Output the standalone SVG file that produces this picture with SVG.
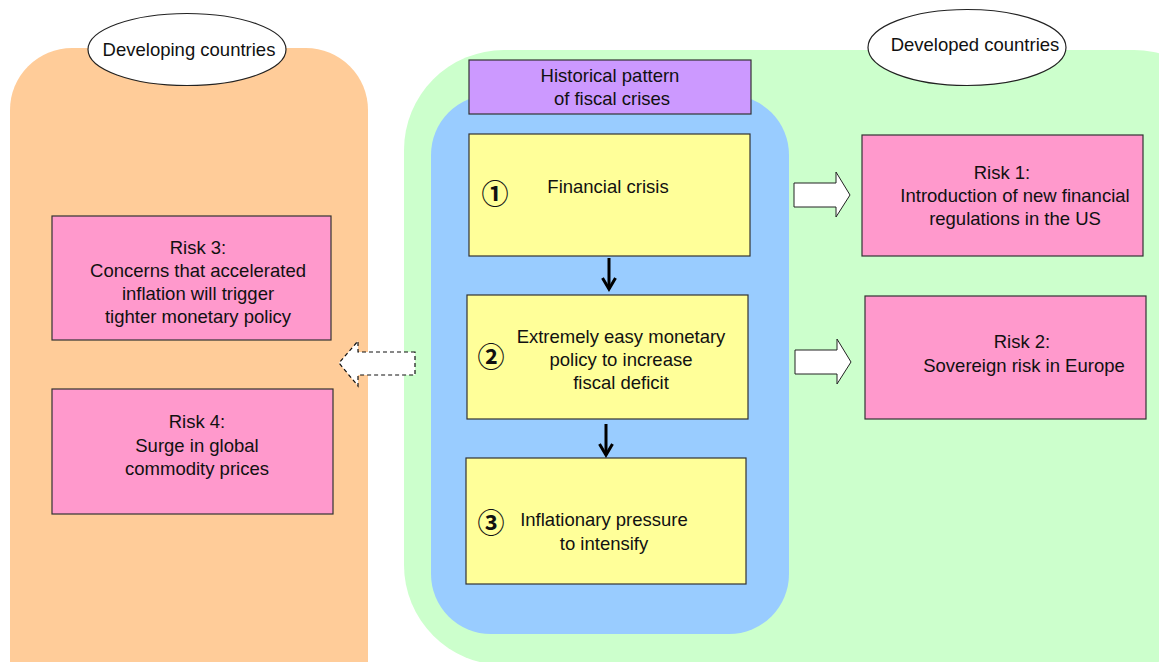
<svg xmlns="http://www.w3.org/2000/svg" width="1159" height="662" viewBox="0 0 1159 662">
<style>
text{font-family:"Liberation Sans",Arial,sans-serif;font-size:18.5px;fill:#111;text-anchor:middle}
.box{stroke:#333;stroke-width:1.2}
.pink{fill:#ff99cc}
.yellow{fill:#ffff99}
.num{font-size:27px;font-weight:bold;font-family:"Noto Sans CJK JP","DejaVu Sans",sans-serif}
.ell{fill:#fff;stroke:#222;stroke-width:1.2}
.blk{fill:#fff;stroke:#222;stroke-width:1}
</style>
<defs>
<marker id="ah" markerWidth="18" markerHeight="16" refX="8" refY="13" orient="0" markerUnits="userSpaceOnUse">
<path d="M1.5,2 L8,13 L14.5,2" fill="none" stroke="#000" stroke-width="3"/>
</marker>
</defs>
<g id="developing-region">
<rect x="10" y="48" width="358" height="680" rx="62" fill="#ffcc99"/>
</g>
<g id="developed-region">
<rect x="404" y="50" width="830" height="615" rx="100" fill="#ccffcc"/>
</g>
<g id="pattern-region">
<rect x="431" y="95" width="358" height="539" rx="60" fill="#99ccff"/>
</g>
<g id="developing-label">
<ellipse cx="187" cy="49.5" rx="99" ry="36" class="ell"/>
<text x="189" y="56">Developing countries</text>
</g>
<g id="developed-label">
<ellipse cx="967" cy="47.5" rx="99" ry="38" class="ell"/>
<text x="975" y="51">Developed countries</text>
</g>
<g id="pattern-title">
<rect x="469" y="60" width="282" height="54" fill="#cc99ff" class="box"/>
<text x="610" y="82">Historical pattern</text>
<text x="612" y="105">of fiscal crises</text>
</g>
<g id="step1">
<rect x="469" y="134" width="281" height="122" class="yellow box"/>
<text x="495" y="204" class="num">①</text>
<text x="608" y="193">Financial crisis</text>
</g>
<g id="step2">
<rect x="467" y="295" width="281" height="124" class="yellow box"/>
<text x="491" y="367" class="num">②</text>
<text x="621" y="343">Extremely easy monetary</text>
<text x="621" y="366">policy to increase</text>
<text x="621" y="389">fiscal deficit</text>
</g>
<g id="step3">
<rect x="466" y="458" width="280" height="126" class="yellow box"/>
<text x="491" y="533" class="num">③</text>
<text x="604" y="526">Inflationary pressure</text>
<text x="604" y="550">to intensify</text>
</g>
<g id="risk1">
<rect x="862" y="135" width="281" height="121" class="pink box"/>
<text x="1002" y="179">Risk 1:</text>
<text x="1015" y="202">Introduction of new financial</text>
<text x="1015" y="225">regulations in the US</text>
</g>
<g id="risk2">
<rect x="865" y="296" width="281" height="123" class="pink box"/>
<text x="1022" y="348">Risk 2:</text>
<text x="1024" y="372">Sovereign risk in Europe</text>
</g>
<g id="risk3">
<rect x="52" y="216" width="279" height="124" class="pink box"/>
<text x="198" y="254">Risk 3:</text>
<text x="198" y="277">Concerns that accelerated</text>
<text x="198" y="300">inflation will trigger</text>
<text x="198" y="323">tighter monetary policy</text>
</g>
<g id="risk4">
<rect x="52" y="389" width="281" height="125" class="pink box"/>
<text x="197" y="428">Risk 4:</text>
<text x="197" y="452">Surge in global</text>
<text x="197" y="475">commodity prices</text>
</g>
<g id="connectors">
<line x1="609" y1="258" x2="609" y2="289" stroke="#000" stroke-width="3" marker-end="url(#ah)"/>
<line x1="606" y1="424" x2="606" y2="455" stroke="#000" stroke-width="3" marker-end="url(#ah)"/>
<path d="M794,183 L836,183 L836,172 L850,195 L836,217 L836,207 L794,207 Z" class="blk"/>
<path d="M795,350 L837,350 L837,339 L851,362 L837,384 L837,374 L795,374 Z" class="blk"/>
<path d="M415,352 L358,352 L358,341 L339,363 L358,386 L358,375 L415,375 Z" fill="#fff" stroke="#111" stroke-width="1.2" stroke-dasharray="4,3"/>
</g>
</svg>
